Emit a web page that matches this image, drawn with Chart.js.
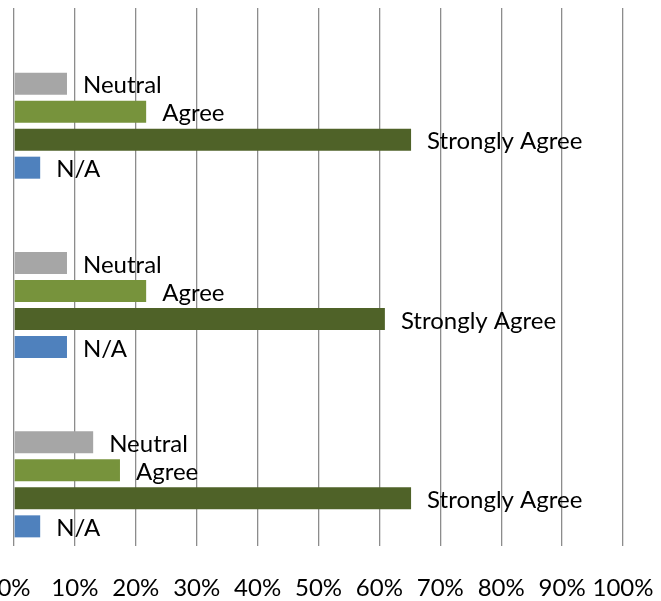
<!DOCTYPE html>
<html>
<head>
<meta charset="utf-8">
<script src="https://cdn.jsdelivr.net/npm/chart.js@4/dist/chart.umd.min.js"></script>
<style>
  body { margin: 0; background: #fff; }
</style>
</head>
<body>
<canvas id="myChart" width="661" height="601"></canvas>
<script>
/** DATA **/
const categories = ['Item 1', 'Item 2', 'Item 3'];
const stronglyDisagree = [null, null, null];
const disagree = [null, null, null];
const neutral = [8.7, 8.7, 13.0];
const agree = [21.7, 21.7, 17.4];
const stronglyAgree = [65.2, 60.9, 65.2];
const notApplicable = [4.3, 8.7, 4.3];
const tickValues = [0, 10, 20, 30, 40, 50, 60, 70, 80, 90, 100];

const fontName = 'Lato';

/** labels next to the bars **/
const barLabels = {
  id: 'barLabels',
  afterDatasetsDraw(chart) {
    const ctx = chart.ctx;
    ctx.save();
    ctx.font = '24px ' + fontName;
    ctx.fillStyle = '#000';
    ctx.textBaseline = 'middle';
    ctx.textAlign = 'left';
    chart.data.datasets.forEach((ds, i) => {
      const meta = chart.getDatasetMeta(i);
      meta.data.forEach((bar, j) => {
        if (ds.data[j] == null) return;
        ctx.fillText(ds.label, bar.x + 16, bar.y + 2);
      });
    });
    ctx.restore();
  }
};

const data = {
  labels: categories,
  datasets: [
    { label: 'Strongly Disagree', data: stronglyDisagree, backgroundColor: '#c0504d' },
    { label: 'Disagree', data: disagree, backgroundColor: '#f79646' },
    { label: 'Neutral', data: neutral, backgroundColor: '#a6a6a6' },
    { label: 'Agree', data: agree, backgroundColor: '#77933c' },
    { label: 'Strongly Agree', data: stronglyAgree, backgroundColor: '#4f6228' },
    { label: 'N/A', data: notApplicable, backgroundColor: '#4f81bd' }
  ]
};

const config = {
  type: 'bar',
  data,
  options: {
    indexAxis: 'y',
    responsive: false,
    animation: false,
    layout: { padding: { top: 8, left: 0, right: 0, bottom: 0 } },
    datasets: {
      bar: { categoryPercentage: 0.937, barPercentage: 0.786 }
    },
    plugins: {
      legend: { display: false },
      tooltip: { enabled: false }
    },
    scales: {
      x: {
        min: 0,
        max: 100,
        afterBuildTicks: (scale) => { scale.ticks = tickValues.map(v => ({ value: v })); },
        afterFit: (scale) => {
          scale.height = 55;
          scale.paddingLeft = 14;
          scale.paddingRight = 38;
        },
        grid: { color: '#8c8c8c', lineWidth: 1.3, drawTicks: false },
        border: { display: false },
        ticks: {
          padding: 28,
          color: '#000',
          font: { family: fontName, size: 24 },
          autoSkip: false,
          maxRotation: 0,
          minRotation: 0,
          callback: (v) => v + '%'
        }
      },
      y: {
        display: false
      }
    }
  },
  plugins: [barLabels]
};

var myChart = new Chart(document.getElementById('myChart'), config);
</script>
</body>
</html>
